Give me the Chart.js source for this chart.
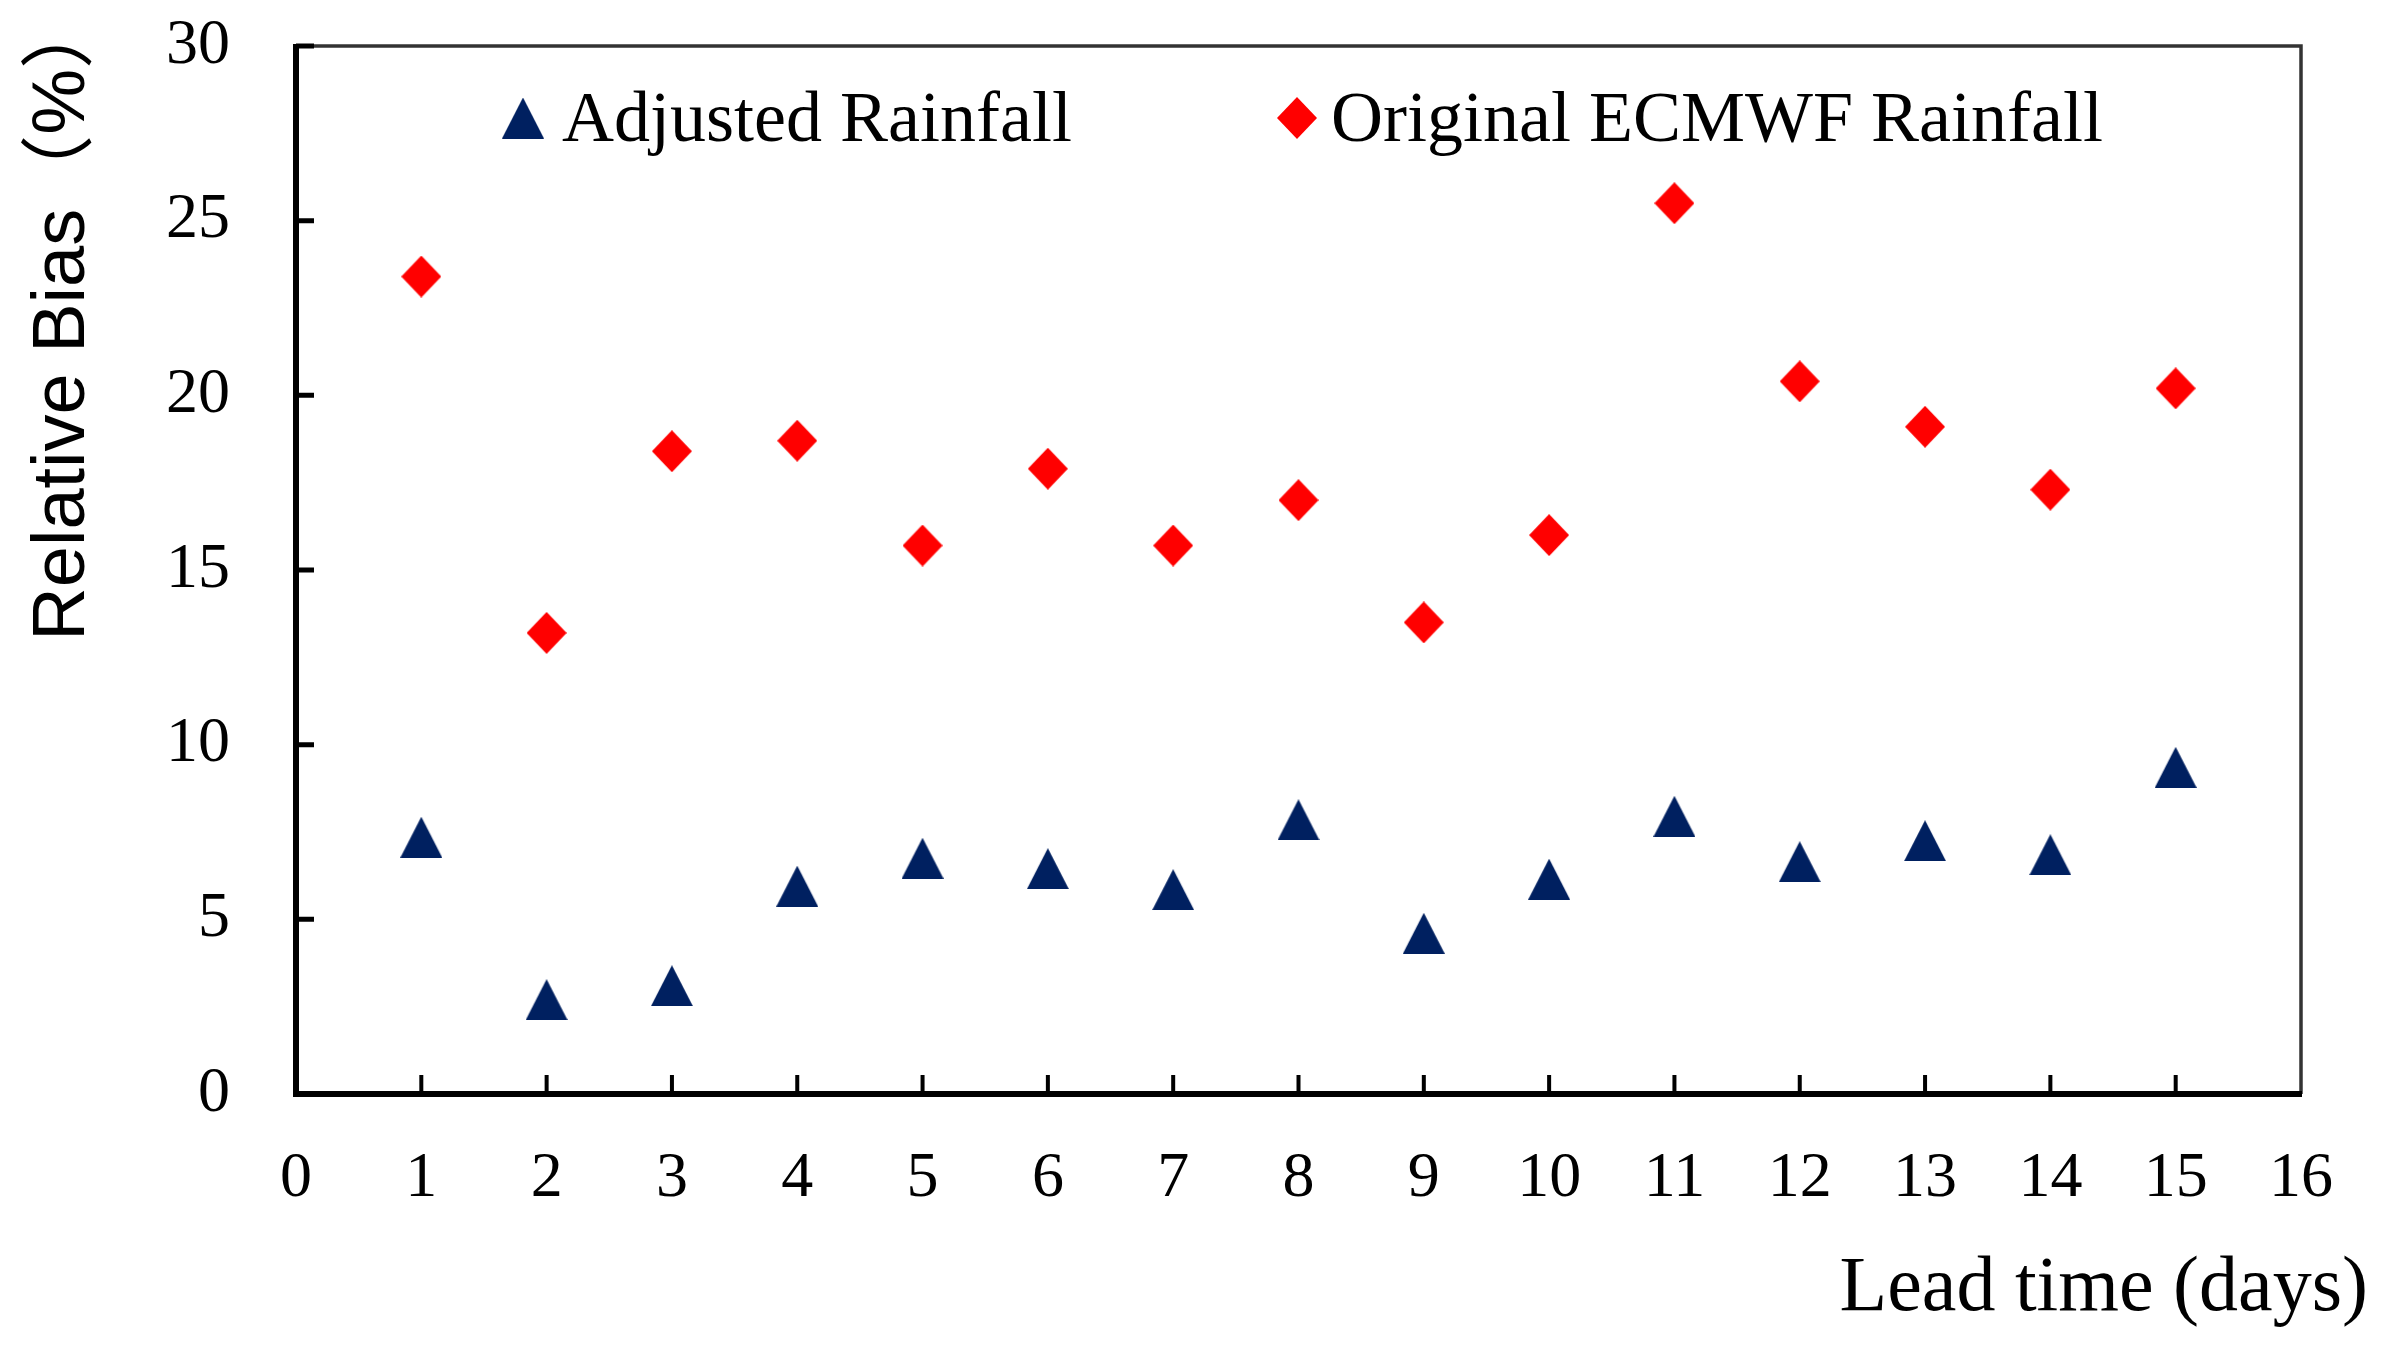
<!DOCTYPE html>
<html>
<head>
<meta charset="utf-8">
<script src="https://cdn.jsdelivr.net/npm/chart.js"></script>
<style>
  html, body {
    margin: 0;
    padding: 0;
    background: #fff;
  }
</style>
</head>
<body>
<canvas id="chart" width="2390" height="1354"></canvas>

<script>
  // values
  const leadDays = [1, 2, 3, 4, 5, 6, 7, 8, 9, 10, 11, 12, 13, 14, 15];
  const adjustedBias = [7.35, 2.7, 3.1, 5.95, 6.75, 6.45, 5.85, 7.85, 4.6, 6.15, 7.95, 6.65, 7.25, 6.85, 9.35];
  const originalBias = [23.4, 13.2, 18.4, 18.7, 15.7, 17.9, 15.7, 17.0, 13.5, 16.0, 25.5, 20.4, 19.1, 17.3, 20.2];
  const seriesNames = ['Adjusted Rainfall', 'Original ECMWF Rainfall'];
  const xTitle = 'Lead time (days)';
  const yTitle = 'Relative Bias（%）';

  const navy = '#002060';
  const red = '#ff0000';
  const serif = "'Liberation Serif', 'Times New Roman', serif";
  const sans = "'Liberation Sans', 'Noto Sans CJK SC', sans-serif";

  // marker images, so the shape's box sits centred on the value like in Excel
  function triangleMarker(w, h, color) {
    const c = document.createElement('canvas');
    c.width = w;
    c.height = h;
    const g = c.getContext('2d');
    g.fillStyle = color;
    g.beginPath();
    g.moveTo(w / 2, 0);
    g.lineTo(w, h);
    g.lineTo(0, h);
    g.closePath();
    g.fill();
    return c;
  }

  function diamondMarker(w, h, color) {
    const c = document.createElement('canvas');
    c.width = w;
    c.height = h;
    const g = c.getContext('2d');
    g.fillStyle = color;
    g.beginPath();
    g.moveTo(w / 2, 0);
    g.lineTo(w, h / 2);
    g.lineTo(w / 2, h);
    g.lineTo(0, h / 2);
    g.closePath();
    g.fill();
    return c;
  }

  const triangle = triangleMarker(42, 41, navy);
  const diamond = diamondMarker(40, 42, red);

  // thick left/bottom axes, thin top/right frame, ticks pointing inward
  const frame = {
    id: 'frame',
    beforeDatasetsDraw(chart) {
      const { ctx, chartArea: a, scales } = chart;
      ctx.save();
      ctx.lineCap = 'butt';

      ctx.strokeStyle = '#333';
      ctx.lineWidth = 3.5;
      ctx.beginPath();
      ctx.moveTo(a.left, a.top);
      ctx.lineTo(a.right, a.top);
      ctx.lineTo(a.right, a.bottom);
      ctx.stroke();

      ctx.strokeStyle = '#000';
      ctx.lineWidth = 4;
      ctx.beginPath();
      scales.x.ticks.forEach(t => {
        if (t.value <= scales.x.min || t.value >= scales.x.max) return;
        const px = scales.x.getPixelForValue(t.value);
        ctx.moveTo(px, a.bottom);
        ctx.lineTo(px, a.bottom - 19);
      });
      ctx.stroke();

      ctx.lineWidth = 5;
      ctx.beginPath();
      scales.y.ticks.forEach(t => {
        if (t.value <= scales.y.min) return;
        const py = scales.y.getPixelForValue(t.value);
        ctx.moveTo(a.left, py);
        ctx.lineTo(a.left + 18, py);
      });
      ctx.stroke();

      ctx.lineWidth = 6;
      ctx.beginPath();
      ctx.moveTo(a.left, a.top - 2);
      ctx.lineTo(a.left, a.bottom);
      ctx.lineTo(a.right + 1, a.bottom);
      ctx.stroke();
      ctx.restore();
    }
  };

  // legend inside the plot, and both axis titles placed like the original
  const legendSlots = [
    { marker: 227, text: 266 },
    { marker: 1001, text: 1035 }
  ];

  const labels = {
    id: 'labels',
    afterDraw(chart) {
      const { ctx, chartArea: a } = chart;
      ctx.save();
      ctx.fillStyle = '#000';
      ctx.font = '72px ' + serif;
      ctx.textBaseline = 'alphabetic';
      chart.data.datasets.forEach((ds, i) => {
        const slot = legendSlots[i];
        const img = ds.pointStyle;
        const cy = a.top + 72;
        ctx.drawImage(img, a.left + slot.marker - img.width / 2, cy - img.height / 2);
        ctx.textAlign = 'left';
        ctx.fillText(ds.label, a.left + slot.text, a.top + 95);
      });

      ctx.font = '78px ' + serif;
      ctx.textAlign = 'right';
      ctx.fillText(xTitle, a.right + 67, a.bottom + 216);

      // y title: ink of the closing bracket ends level with the frame top
      ctx.font = '74px ' + sans;
      ctx.textAlign = 'left';
      ctx.textBaseline = 'middle';
      const inkEnd = ctx.measureText(yTitle).actualBoundingBoxRight;
      ctx.translate(64, a.top + inkEnd);
      ctx.rotate(-Math.PI / 2);
      ctx.fillText(yTitle, 0, 0);
      ctx.restore();
    }
  };

  new Chart(document.getElementById('chart'), {
    type: 'scatter',
    data: {
      datasets: [{
        label: seriesNames[0],
        data: leadDays.map((d, i) => ({ x: d, y: adjustedBias[i] })),
        pointStyle: triangle,
        backgroundColor: navy,
        borderWidth: 0
      }, {
        label: seriesNames[1],
        data: leadDays.map((d, i) => ({ x: d, y: originalBias[i] })),
        pointStyle: diamond,
        backgroundColor: red,
        borderWidth: 0
      }]
    },
    options: {
      responsive: false,
      devicePixelRatio: 1,
      animation: false,
      events: [],
      layout: {
        autoPadding: false,
        padding: { top: 46, right: 89, left: 0, bottom: 0 }
      },
      plugins: {
        legend: { display: false },
        tooltip: { enabled: false }
      },
      scales: {
        x: {
          type: 'linear',
          min: 0,
          max: 16,
          afterFit: s => {
            s.height = 260;
            s.paddingLeft = 0;
            s.paddingRight = 0;
          },
          grid: { display: false, drawTicks: false },
          border: { display: false },
          ticks: {
            stepSize: 1,
            padding: 47,
            color: '#000',
            font: { family: serif, size: 64 }
          }
        },
        y: {
          min: 0,
          max: 30,
          afterFit: s => {
            s.width = 296;
            s.paddingTop = 0;
            s.paddingBottom = 0;
          },
          grid: { display: false, drawTicks: false },
          border: { display: false },
          ticks: {
            stepSize: 5,
            padding: 66,
            color: '#000',
            font: { family: serif, size: 64 }
          }
        }
      }
    },
    plugins: [frame, labels]
  });
</script>
</body>
</html>
